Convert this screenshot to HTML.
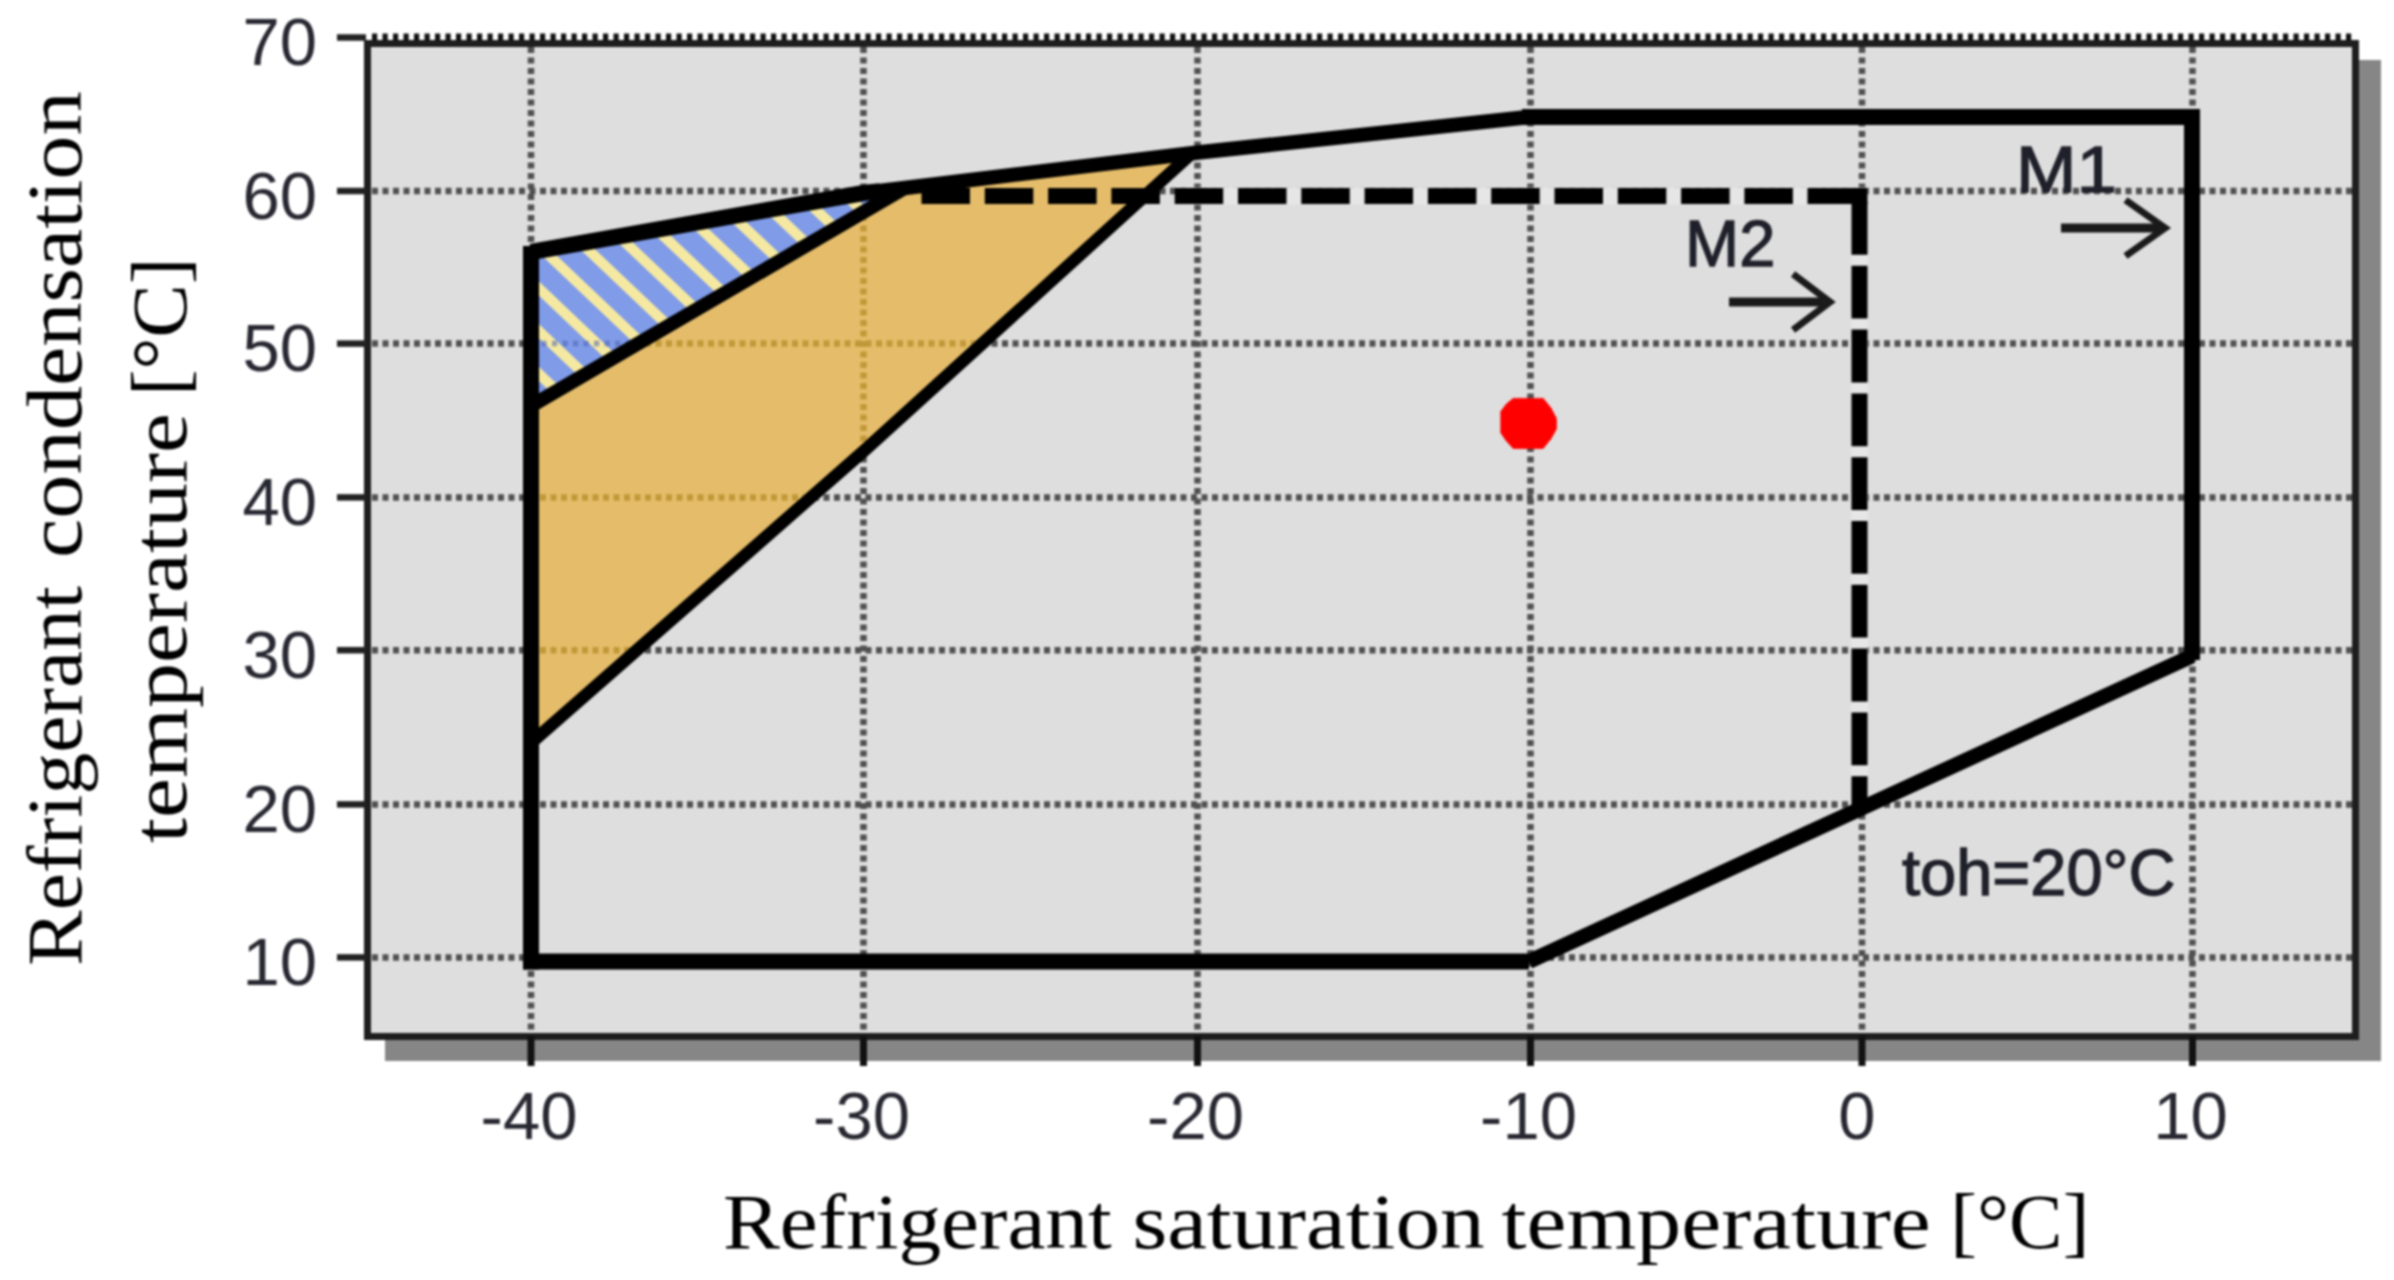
<!DOCTYPE html>
<html lang="en"><head><meta charset="utf-8"><title>Compressor envelope</title>
<style>
html,body{margin:0;padding:0;background:#fff;}
body{width:2394px;height:1280px;overflow:hidden;}
svg{display:block;filter:blur(1.1px);}
.sans{font-family:"Liberation Sans",Arial,Helvetica,sans-serif;}
.serif{font-family:"Liberation Serif","Times New Roman",serif;}
</style></head><body>
<svg width="2394" height="1280" viewBox="0 0 2394 1280">
<defs>
<pattern id="hatch" patternUnits="userSpaceOnUse" width="45" height="60" patternTransform="translate(548.5 262) skewX(46.5)">
<rect x="0" y="0" width="45" height="60" fill="#809be8"/>
<rect x="0" y="0" width="15" height="60" fill="#f5e9a2"/>
</pattern>
<clipPath id="cOrange"><polygon points="531,406 903,189 1192,153.2 865,450 531,743"/></clipPath>
<clipPath id="cBlue"><polygon points="531,252 863.5,193 903,189 531,406"/></clipPath>
</defs>
<rect x="0" y="0" width="2394" height="1280" fill="#fff"/>

<rect x="385" y="60" width="1996" height="1001" fill="#868686"/>
<rect x="367.5" y="43.5" width="1988" height="993" fill="#dedede" stroke="#1e1e1e" stroke-width="7"/>
<line x1="372" y1="37" x2="2352" y2="37" stroke="#111" stroke-width="7" stroke-dasharray="5.2 5.3"/>
<g stroke="#505050" stroke-width="6.5" stroke-dasharray="6 4.5" fill="none">
<line x1="372" y1="191" x2="2352" y2="191"/>
<line x1="372" y1="343.6" x2="2352" y2="343.6"/>
<line x1="372" y1="497.4" x2="2352" y2="497.4"/>
<line x1="372" y1="650.2" x2="2352" y2="650.2"/>
<line x1="372" y1="804.4" x2="2352" y2="804.4"/>
<line x1="372" y1="957.4" x2="2352" y2="957.4"/>
<line x1="531" y1="47" x2="531" y2="1033"/>
<line x1="863.5" y1="47" x2="863.5" y2="1033"/>
<line x1="1197.5" y1="47" x2="1197.5" y2="1033"/>
<line x1="1530.5" y1="47" x2="1530.5" y2="1033"/>
<line x1="1862" y1="47" x2="1862" y2="1033"/>
<line x1="2192.5" y1="47" x2="2192.5" y2="1033"/>
</g>
<g stroke="#222" stroke-width="6.5">
<line x1="337" y1="37.5" x2="366" y2="37.5"/>
<line x1="337" y1="191" x2="366" y2="191"/>
<line x1="337" y1="343.6" x2="366" y2="343.6"/>
<line x1="337" y1="497.4" x2="366" y2="497.4"/>
<line x1="337" y1="650.2" x2="366" y2="650.2"/>
<line x1="337" y1="804.4" x2="366" y2="804.4"/>
<line x1="337" y1="957.4" x2="366" y2="957.4"/>
</g><g stroke="#111" stroke-width="7">
<line x1="531" y1="1036" x2="531" y2="1066"/>
<line x1="863.5" y1="1036" x2="863.5" y2="1066"/>
<line x1="1197.5" y1="1036" x2="1197.5" y2="1066"/>
<line x1="1530.5" y1="1036" x2="1530.5" y2="1066"/>
<line x1="1862" y1="1036" x2="1862" y2="1066"/>
<line x1="2192.5" y1="1036" x2="2192.5" y2="1066"/>
</g>
<polygon points="531,406 903,189 1192,153.2 865,450 531,743" fill="#e5bd6a"/>
<g stroke="#c19838" stroke-width="6.5" stroke-dasharray="6 4.5" fill="none" clip-path="url(#cOrange)">
<line x1="372" y1="343.6" x2="2352" y2="343.6"/>
<line x1="372" y1="497.4" x2="2352" y2="497.4"/>
<line x1="372" y1="650.2" x2="2352" y2="650.2"/>
<line x1="372" y1="804.4" x2="2352" y2="804.4"/>
<line x1="372" y1="957.4" x2="2352" y2="957.4"/>
<line x1="531" y1="47" x2="531" y2="1033"/>
<line x1="863.5" y1="47" x2="863.5" y2="1033"/>
<line x1="1197.5" y1="47" x2="1197.5" y2="1033"/>
<line x1="1530.5" y1="47" x2="1530.5" y2="1033"/>
<line x1="1862" y1="47" x2="1862" y2="1033"/>
<line x1="2192.5" y1="47" x2="2192.5" y2="1033"/>
</g>
<polygon points="531,252 863.5,193 903,189 531,406" fill="url(#hatch)"/>
<line x1="531" y1="343.6" x2="700" y2="343.6" stroke="#4a63b0" stroke-opacity="0.55" stroke-width="5.5" stroke-dasharray="5.2 5.3" clip-path="url(#cBlue)"/>
<g stroke="#000" fill="none" stroke-linecap="butt">
<line x1="531" y1="406" x2="903" y2="189" stroke-width="14"/>
<polyline points="531,743 865,450 1192,153.2" stroke-width="12.5"/>
</g>
<line x1="1192" y1="196" x2="1867.5" y2="196" stroke="#e6e6e6" stroke-width="17"/>
<line x1="1859.5" y1="196" x2="1859.5" y2="800" stroke="#e6e6e6" stroke-width="17"/>
<g stroke="#000" stroke-width="16" fill="none">
<line x1="921.5" y1="196" x2="1807" y2="196" stroke-dasharray="48.5 14.8"/>
<line x1="1807.5" y1="196" x2="1867.5" y2="196"/>
<line x1="1859.5" y1="202" x2="1859.5" y2="806" stroke-dasharray="52.8 11"/>
</g>
<g stroke="#000" fill="none" stroke-linejoin="miter">
<polyline points="531,252 863.5,193 880,191.1" stroke-width="16"/>
<polyline points="863.5,193 1198,152.5 1529,117" stroke-width="14.5"/>
<polyline points="1529,961.5 2192,656" stroke-width="15"/>
<polyline points="1529,961.5 523,961.5" stroke-width="16"/>
<polyline points="531,969.5 531,246" stroke-width="16"/>
<polyline points="1522,117 2200,117" stroke-width="16"/>
<polyline points="2192,109 2192,660" stroke-width="16"/>
</g>
<polygon points="1513.2,398.4 1543.2,398.4 1550.8,407.8 1556.4,418.4 1556.4,429.0 1550.8,439.0 1543.2,448.4 1513.2,448.4 1505.8,440.2 1500.8,432.8 1500.8,411.5 1506.4,404.0" fill="#ff0000" stroke="#ff0000" stroke-width="0.8" stroke-linejoin="round"/>
<g stroke="#1a1a1a" stroke-width="7.5" fill="none" stroke-linejoin="miter" stroke-miterlimit="10">
<line x1="1729" y1="302" x2="1824" y2="302" stroke-width="9"/><polyline points="1793,274 1830,302 1793,330" stroke-width="7"/>
<line x1="2061" y1="228" x2="2159" y2="228" stroke-width="9"/><polyline points="2125.5,200 2165,228 2125.5,256" stroke-width="7"/>
</g>
<g class="sans" font-size="65" fill="#20202b" stroke="#20202b" stroke-width="1.3">
<text x="1685" y="265.5">M2</text>
<text x="2016" y="191.5" textLength="101" lengthAdjust="spacingAndGlyphs">M1</text>
<text x="1902" y="895" font-size="65">toh=20°C</text>
</g>
<g class="sans" font-size="67" fill="#282832" text-anchor="end">
<text x="317" y="65.0">70</text>
<text x="317" y="218.5">60</text>
<text x="317" y="371.1">50</text>
<text x="317" y="524.9">40</text>
<text x="317" y="677.7">30</text>
<text x="317" y="831.9">20</text>
<text x="317" y="984.9">10</text>
</g>
<g class="sans" font-size="67" fill="#282832" text-anchor="middle">
<text x="529" y="1138.5">-40</text>
<text x="861.5" y="1138.5">-30</text>
<text x="1195.5" y="1138.5">-20</text>
<text x="1528.5" y="1138.5">-10</text>
<text x="1857" y="1138.5">0</text>
<text x="2190.5" y="1138.5">10</text>
</g>
<g class="serif" font-size="79" fill="#000">
<text x="722.9" y="1247.5" textLength="388.9" lengthAdjust="spacingAndGlyphs">Refrigerant</text>
<text x="1132.4" y="1247.5" textLength="352.4" lengthAdjust="spacingAndGlyphs">saturation</text>
<text x="1501.6" y="1247.5" textLength="429.1" lengthAdjust="spacingAndGlyphs">temperature</text>
<text x="1950.2" y="1247.5" textLength="139.2" lengthAdjust="spacingAndGlyphs">[°C]</text>
<text transform="translate(81 966) rotate(-90)" textLength="380.0" lengthAdjust="spacingAndGlyphs">Refrigerant</text>
<text transform="translate(81 558) rotate(-90)" textLength="466.8" lengthAdjust="spacingAndGlyphs">condensation</text>
<text transform="translate(185.5 843) rotate(-90)" textLength="430.0" lengthAdjust="spacingAndGlyphs">temperature</text>
<text transform="translate(185.5 396) rotate(-90)" textLength="138.4" lengthAdjust="spacingAndGlyphs">[°C]</text>
</g>
</svg></body></html>
